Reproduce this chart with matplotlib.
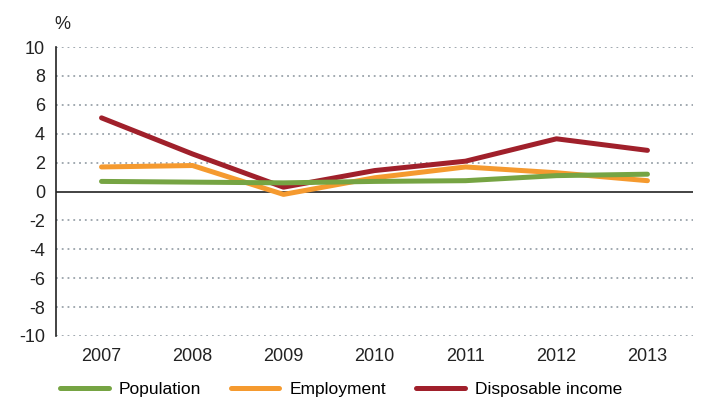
import matplotlib.pyplot as plt

plt.rcParams['font.family'] = ['Liberation Sans', 'DejaVu Sans']
plt.rcParams['axes.unicode_minus'] = False

# Data
years = ['2007', '2008', '2009', '2010', '2011', '2012', '2013']
population = [0.7, 0.65, 0.6, 0.7, 0.75, 1.1, 1.2]
employment = [1.7, 1.8, -0.2, 0.95, 1.7, 1.3, 0.75]
disposable_income = [5.1, 2.6, 0.3, 1.45, 2.1, 3.65, 2.85]

c_pop = '#76a443'
c_emp = '#f59a2f'
c_inc = '#a0202b'

fig = plt.figure(figsize=(7.03, 3.99), dpi=100)
ax = fig.add_axes([0.0797, 0.158, 0.906, 0.724])

x = range(len(years))
l_emp, = ax.plot(x, employment, color=c_emp, lw=3.6, solid_capstyle='round', zorder=3, label='Employment')
l_inc, = ax.plot(x, disposable_income, color=c_inc, lw=3.6, solid_capstyle='round', zorder=4, label='Disposable income')
l_pop, = ax.plot(x, population, color=c_pop, lw=3.6, solid_capstyle='round', zorder=5, label='Population')

ax.set_xlim(-0.5, 6.5)
ax.set_ylim(-10, 10)
ax.set_yticks(range(-10, 11, 2))
ax.set_xticks(list(x))
ax.set_xticklabels(years)
ax.tick_params(axis='both', length=0, labelsize=13, colors='#222222')
ax.tick_params(axis='y', pad=8)
ax.tick_params(axis='x', pad=9)

for y in range(-10, 11, 2):
    if y != 0:
        ax.axhline(y, color='#9aa3aa', lw=1.3, ls=(0, (1, 2.2)), zorder=1)
ax.axhline(0, color='#222222', lw=1.2, zorder=2)

for s in ['top', 'right', 'bottom']:
    ax.spines[s].set_visible(False)
ax.spines['left'].set_color('#222222')
ax.spines['left'].set_linewidth(1.2)

fig.text(0.078, 0.928, '%', fontsize=13, color='#222222')

fig.legend(handles=[l_pop, l_emp, l_inc], loc='lower left', bbox_to_anchor=(0.063, -0.035),
           ncol=3, frameon=False, fontsize=12.5, handlelength=2.8, handletextpad=0.6,
           columnspacing=1.7)

fig.savefig('out.png', dpi=100)
